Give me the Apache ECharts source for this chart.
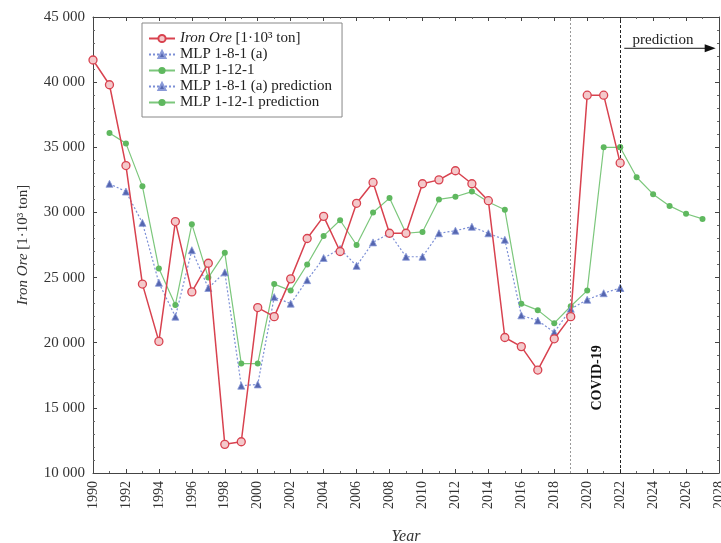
<!DOCTYPE html>
<html><head><meta charset="utf-8">
<script src="https://cdn.jsdelivr.net/npm/echarts@6.0.0/dist/echarts.min.js"></script>
<style>html,body{margin:0;padding:0;background:#fff}#c{width:721px;height:543px}</style>
</head><body><div id="c"></div>
<script>
const years = [1990,1991,1992,1993,1994,1995,1996,1997,1998,1999,2000,2001,2002,2003,2004,2005,2006,2007,2008,2009,2010,2011,2012,2013,2014,2015,2016,2017,2018,2019,2020,2021,2022];
const ironOre = [41700,39800,33600,24500,20100,29300,23900,26100,12200,12400,22700,22000,24900,28000,29700,27000,30700,32300,28400,28400,32200,32500,33200,32200,30900,20400,19700,17900,20300,22000,39000,39000,33800];
const mlp181 = [null,32200,31600,29200,24600,22000,27100,24200,25400,16700,16800,23500,23000,24800,26500,27200,25900,27700,28400,26600,26600,28400,28600,28900,28400,27900,22100,21700,20800,22600,23300,23800,24200];
const mlp1121 = [null,36100,35300,32000,25700,22900,29100,25000,26900,18400,18400,24500,24000,26000,28200,29400,27500,30000,31100,28400,28500,31000,31200,31600,30800,30200,23000,22500,21500,22800,24000,35000,35000];
const predYears = [2022,2023,2024,2025,2026,2027];
const mlp1121Pred = [35000,32700,31400,30500,29900,29500];
const mlp181PredYears = [2022];
const mlp181Pred = [24200];
const xMin = 1990, xMax = 2028, xStep = 2;
const yMin = 10000, yMax = 45000, yStep = 5000;
const covidYear = 2019, predStartYear = 2022;

const FONT = 'Liberation Serif';
const pair = (xs, ys) => xs.map((x, i) => [x, ys[i] == null ? '-' : ys[i]]);
const fmtY = v => String(v).replace(/\B(?=(\d{3})+(?!\d))/g, ' ');
const RED = '#d8424f', BLUE = '#5566b0', BLUEL = '#7c8fd6', GREEN = '#5fb85f', GREENL = '#7cc77c';

const chart = echarts.init(document.getElementById('c'), null, {renderer: 'canvas'});
const axisCommon = {
  type: 'value', splitLine: {show: false},
  axisLine: {show: true, lineStyle: {color: '#444', width: 1}},
  axisTick: {show: true, inside: true, length: 4, lineStyle: {color: '#444'}},
  minorTick: {show: true, length: 2, lineStyle: {color: '#666'}}
};
chart.setOption({
  animation: false,
  backgroundColor: '#fff',
  grid: {left: 93, right: 2, top: 17, bottom: 70, outerBoundsMode: 'none', containLabel: false},
  legend: {
    orient: 'vertical', left: 142, top: 23,
    padding: [8, 10, 7, 6], itemGap: 1, itemWidth: 26, itemHeight: 9,
    borderColor: '#888', borderWidth: 1, backgroundColor: '#fff',
    data: ['Iron Ore', 'MLP 1-8-1 (a)', 'MLP 1-12-1', 'MLP 1-8-1 (a) prediction', 'MLP 1-12-1 prediction'],
    formatter: n => n === 'Iron Ore' ? '{i|Iron Ore} [1·10³ ton]' : n,
    textStyle: {fontFamily: FONT, fontSize: 15, color: '#222', lineHeight: 15,
      rich: {i: {fontFamily: FONT, fontSize: 15, fontStyle: 'italic', color: '#222'}}}
  },
  xAxis: [
    Object.assign({}, axisCommon, {
      position: 'bottom', min: xMin, max: xMax, interval: xStep,
      minorTick: Object.assign({}, axisCommon.minorTick, {splitNumber: 2}),
      axisLabel: {rotate: 90, formatter: v => String(v), fontFamily: FONT, fontSize: 14, color: '#333', margin: 8},
      name: 'Year', nameLocation: 'middle', nameGap: 56,
      nameTextStyle: {fontFamily: FONT, fontSize: 16, fontStyle: 'italic', color: '#333'}
    }),
    Object.assign({}, axisCommon, {
      position: 'top', min: xMin, max: xMax, interval: xStep,
      minorTick: Object.assign({}, axisCommon.minorTick, {splitNumber: 2}),
      axisLabel: {show: false}
    })
  ],
  yAxis: [
    Object.assign({}, axisCommon, {
      position: 'left', min: yMin, max: yMax, interval: yStep,
      minorTick: Object.assign({}, axisCommon.minorTick, {splitNumber: 5}),
      axisLabel: {formatter: fmtY, fontFamily: FONT, fontSize: 15, color: '#333', margin: 8},
      name: '{i|Iron Ore} [1·10³ ton]', nameLocation: 'middle', nameGap: 62,
      nameTextStyle: {fontFamily: FONT, fontSize: 15, color: '#333',
        rich: {i: {fontFamily: FONT, fontSize: 15, fontStyle: 'italic', color: '#333'}}}
    }),
    Object.assign({}, axisCommon, {
      position: 'right', min: yMin, max: yMax, interval: yStep,
      minorTick: Object.assign({}, axisCommon.minorTick, {splitNumber: 5}),
      axisLabel: {show: false}
    })
  ],
  series: [
    {
      name: 'Iron Ore', type: 'line', data: pair(years, ironOre), z: 5,
      symbol: 'circle', symbolSize: 8,
      itemStyle: {color: '#f4c9cb', borderColor: RED, borderWidth: 1.3},
      lineStyle: {color: RED, width: 1.5},
      markLine: {
        silent: true, symbol: 'none', label: {show: false},
        data: [
          {xAxis: covidYear, lineStyle: {type: [2, 2], color: '#999', width: 1}},
          {xAxis: predStartYear, lineStyle: {type: [3, 2], color: '#222', width: 1}}
        ]
      }
    },
    {
      name: 'MLP 1-8-1 (a)', type: 'line', data: pair(years, mlp181), z: 4,
      symbol: 'triangle', symbolSize: 7,
      itemStyle: {color: BLUE, borderColor: '#8a9ad8', borderWidth: 0.8},
      lineStyle: {color: BLUEL, width: 1.2, type: [2, 2]}
    },
    {
      name: 'MLP 1-12-1', type: 'line', data: pair(years, mlp1121), z: 3,
      symbol: 'circle', symbolSize: 6,
      itemStyle: {color: GREEN},
      lineStyle: {color: GREENL, width: 1.2}
    },
    {
      name: 'MLP 1-8-1 (a) prediction', type: 'line', data: pair(mlp181PredYears, mlp181Pred), z: 4,
      symbol: 'triangle', symbolSize: 7,
      itemStyle: {color: BLUE, borderColor: '#8a9ad8', borderWidth: 0.8},
      lineStyle: {color: BLUEL, width: 1.2, type: [2, 2]}
    },
    {
      name: 'MLP 1-12-1 prediction', type: 'line', data: pair(predYears, mlp1121Pred), z: 3,
      symbol: 'circle', symbolSize: 6,
      itemStyle: {color: GREEN},
      lineStyle: {color: GREENL, width: 1.2}
    }
  ]
});

// Annotations placed via the chart's own scales
const px = (x, y) => chart.convertToPixel({xAxisIndex: 0, yAxisIndex: 0}, [x, y]);
const covidPos = px(2020.6, 17300);
const arrowStart = px(2022.25, 42600);
const arrowEnd = px(2027.8, 42600);
const predText = px(2024.6, 43250);
chart.setOption({
  graphic: [
    {type: 'text', x: covidPos[0], y: covidPos[1], rotation: Math.PI / 2,
      style: {text: 'COVID-19', font: 'bold 14px "Liberation Serif"', fill: '#111', align: 'center', verticalAlign: 'middle'}},
    {type: 'line', shape: {x1: arrowStart[0], y1: arrowStart[1], x2: arrowEnd[0] - 8, y2: arrowEnd[1]},
      style: {stroke: '#111', lineWidth: 1}},
    {type: 'polygon', shape: {points: [[arrowEnd[0], arrowEnd[1]], [arrowEnd[0] - 11, arrowEnd[1] - 4], [arrowEnd[0] - 11, arrowEnd[1] + 4]]},
      style: {fill: '#111'}},
    {type: 'text', x: predText[0], y: predText[1],
      style: {text: 'prediction', font: '15px "Liberation Serif"', fill: '#222', align: 'center', verticalAlign: 'middle'}}
  ]
});
</script></body></html>
